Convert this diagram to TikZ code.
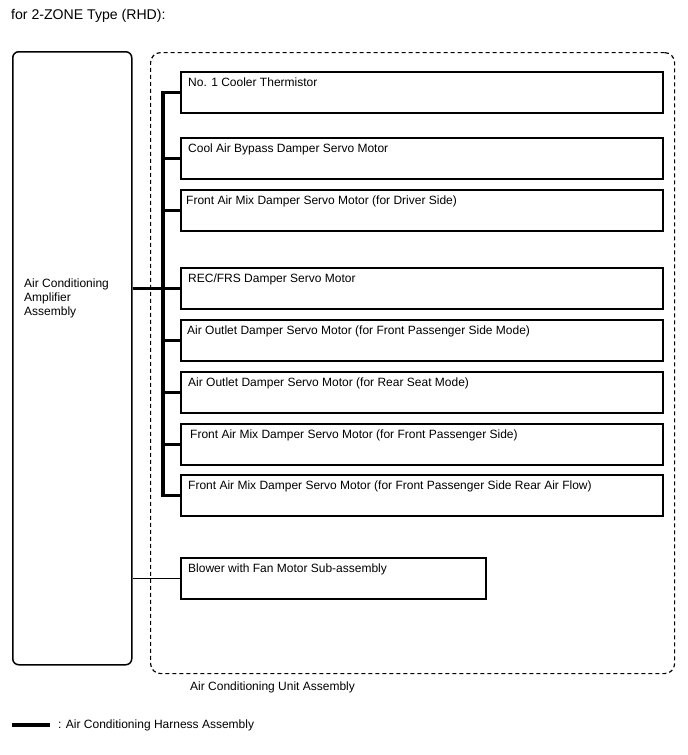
\documentclass[tikz,border=0pt]{standalone}
\usepackage{fontspec}
\setmainfont{Liberation Sans}
\usetikzlibrary{calc}

\begin{document}
\begin{tikzpicture}[x=1pt,y=-1pt,font=\fontsize{12}{14}\selectfont] %% tikz
	\tikzstyle{part}=[draw,line width=1.6pt,inner sep=0pt,anchor=north west,minimum width=482pt,minimum height=41pt];
	\tikzstyle{ptext}=[anchor=north west,inner sep=0pt,xshift=8pt,yshift=-7pt];
	\tikzstyle{harness}=[line width=3.6pt,line join=miter];
	\useasboundingbox (0,0) rectangle (688,755);
	%% title
	\node[anchor=west,inner sep=0pt,font=\fontsize{14.1}{16}\selectfont] (title) at (11,16) {for 2-ZONE Type (RHD):};
	%% amplifier and unit frame
	\node[draw,line width=1.5pt,rounded corners=6pt,anchor=north west,inner sep=0pt,
		minimum width=119pt,minimum height=613pt] (amp) at (12,51) {};
	\node[anchor=north west,align=left,inner sep=0pt] (amptext) at (24,279)
		{Air Conditioning\\Amplifier\\Assembly};
	\node[draw,line width=1.2pt,dash pattern=on 4pt off 3pt,rounded corners=10pt,anchor=north west,
		inner sep=0pt,minimum width=524pt,minimum height=621pt] (unit) at (150,52) {};
	\node[anchor=west,inner sep=0pt] (unittext) at (190,687) {Air Conditioning Unit Assembly};
	%% parts
	\node[part,label={[ptext]north west:No. 1 Cooler Thermistor}] (p1) at (180,71) {};
	\node[part,label={[ptext]north west:Cool Air Bypass Damper Servo Motor}] (p2) at (180,137) {};
	\node[part,label={[ptext,xshift=-2pt]north west:Front Air Mix Damper Servo Motor (for Driver Side)}] (p3) at (180,189) {};
	\node[part,label={[ptext]north west:REC/FRS Damper Servo Motor}] (p4) at (180,267) {};
	\node[part,label={[ptext,xshift=-1pt]north west:Air Outlet Damper Servo Motor (for Front Passenger Side Mode)}] (p5) at (180,319) {};
	\node[part,label={[ptext]north west:Air Outlet Damper Servo Motor (for Rear Seat Mode)}] (p6) at (180,371) {};
	\node[part,label={[ptext,xshift=2pt]north west:Front Air Mix Damper Servo Motor (for Front Passenger Side)}] (p7) at (180,423) {};
	\node[part,label={[ptext]north west:Front Air Mix Damper Servo Motor (for Front Passenger Side Rear Air Flow)}] (p8) at (180,474) {};
	\node[part,minimum width=305pt,label={[ptext]north west:Blower with Fan Motor Sub-assembly}] (blower) at (180,557) {};
	%% harness
	\coordinate (bus) at (163,0);
	\draw[harness] (p1.west) -| (bus |- p8.west) -- (p8.west);
	\draw[harness] (p2.west) -- (bus |- p2.west);
	\draw[harness] (p3.west) -- (bus |- p3.west);
	\draw[harness] (amp.east |- p4.west) -- (p4.west);
	\draw[harness] (p5.west) -- (bus |- p5.west);
	\draw[harness] (p6.west) -- (bus |- p6.west);
	\draw[harness] (p7.west) -- (bus |- p7.west);
	%% blower wire
	\draw[line width=0.9pt] (amp.east |- blower.west) -- (blower.west);
	%% legend
	\coordinate (lgA) at (12,725);
	\coordinate (lgB) at (50,725);
	\draw[line width=3.6pt] (lgA) -- (lgB);
	\node[anchor=west,inner sep=0pt] (lgtext) at (58,725) {: Air Conditioning Harness Assembly};
\end{tikzpicture}
\end{document}
